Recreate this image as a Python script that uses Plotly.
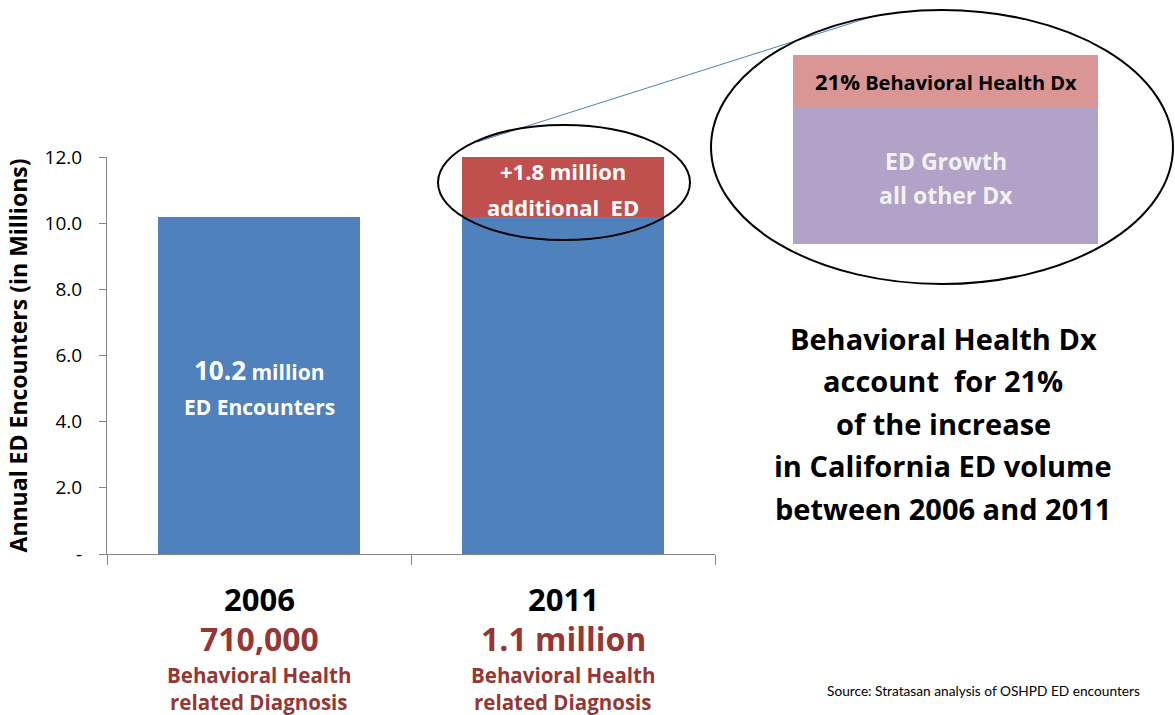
import plotly.graph_objects as go

# ---- data ----
years = ["2006", "2011"]
base_encounters = [10.2, 10.2]      # millions
added_encounters = [0.0, 1.8]       # millions
bh_counts = ["710,000", "1.1 million"]
y_tickvals = [0, 2, 4, 6, 8, 10, 12]
y_ticktext = ["-", "2.0", "4.0", "6.0", "8.0", "10.0", "12.0"]

BLUE = "#4F81BD"
RED = "#C0504D"
DRED = "#953735"
FONT = "Open Sans"

W, H = 1175, 715
L, R, T, B = 107, 460, 157, 161
PW, PH = W - L - R, H - T - B


def px(x):
    return (x - L) / PW


def py(y):
    return (H - B - y) / PH


fig = go.Figure()
fig.add_trace(go.Bar(x=years, y=base_encounters, marker_color=BLUE,
                     marker_line_width=0, hoverinfo="skip"))
fig.add_trace(go.Bar(x=years, y=added_encounters, marker_color=RED,
                     marker_line_width=0, hoverinfo="skip"))

ann = []


def text(x, y, s, size, color="black", bold=True, xref="paper", yref="paper",
         xanchor="center", yshift=0, family=FONT):
    ann.append(dict(x=x, y=y, xref=xref, yref=yref, text=("<b>%s</b>" % s) if bold else s,
                    showarrow=False, xanchor=xanchor, yanchor="middle", yshift=yshift,
                    font=dict(family=family, size=size, color=color)))


# text inside bars (x given as category index)
mid0 = base_encounters[0] / 2
text(0, mid0, "<span style='font-size:26px'>10.2</span> million", 21, "white",
     xref="x", yref="y", yshift=15)
text(0, mid0, "ED Encounters", 21, "white", xref="x", yref="y", yshift=-22)
mid1 = base_encounters[1] + added_encounters[1] / 2
text(1, mid1, "+%.1f million" % added_encounters[1], 22, "white",
     xref="x", yref="y", yshift=16)
text(1, mid1, "additional  ED", 22, "white", xref="x", yref="y", yshift=-20)

# labels below axis
for i, (yr, cnt) in enumerate(zip(years, bh_counts)):
    text(i, py(599), yr, 31, "black", xref="x")
    text(i, py(638), cnt, 32, DRED, xref="x")
    text(i, py(675), "Behavioral Health", 20.5, DRED, xref="x")
    text(i, py(702), "related Diagnosis", 20.5, DRED, xref="x")

# magnified box texts
text(px(946), py(81), "<span style='font-size:22px'>21%</span> Behavioral Health Dx", 20, "black")
text(px(946), py(161), "ED Growth", 23, "#F2F2F2")
text(px(946), py(195), "all other Dx", 23, "#F2F2F2")

# right-hand statement
lines = ["Behavioral Health Dx", "account  for 21%", "of the increase",
         "in California ED volume", "between 2006 and 2011"]
for i, s in enumerate(lines):
    text(px(943), py(338 + i * 42.5), s, 29, "black")

text(px(1142), py(690), "Source: Stratasan analysis of OSHPD ED encounters", 13.7,
     "black", bold=False, xanchor="right", family="Lato")

shapes = [
    # connector line
    dict(type="line", xref="paper", yref="paper", x0=px(477), y0=py(142), x1=px(877), y1=py(15),
         line=dict(color=BLUE, width=1)),
    # magnified box
    dict(type="rect", xref="paper", yref="paper", x0=px(793), x1=px(1098), y0=py(107), y1=py(55),
         fillcolor="#D99694", line_width=0),
    dict(type="rect", xref="paper", yref="paper", x0=px(793), x1=px(1098), y0=py(244), y1=py(107),
         fillcolor="#B3A2C7", line_width=0),
    # ellipses
    dict(type="circle", xref="paper", yref="paper", x0=px(438), x1=px(690), y0=py(240), y1=py(125),
         line=dict(color="black", width=2)),
    dict(type="circle", xref="paper", yref="paper", x0=px(711), x1=px(1173), y0=py(284), y1=py(10),
         line=dict(color="black", width=2)),
]

fig.update_layout(
    width=W, height=H, barmode="stack", bargap=0.333, showlegend=False,
    margin=dict(l=L, r=R, t=T, b=B, autoexpand=False),
    paper_bgcolor="white", plot_bgcolor="white",
    font=dict(family=FONT, color="black"),
    annotations=ann, shapes=shapes,
    xaxis=dict(type="category", tickson="boundaries", ticks="outside", ticklen=10,
               tickcolor="#868686", showticklabels=False, showline=True,
               linecolor="#868686", linewidth=1, showgrid=False, zeroline=False,
               range=[-0.5, 1.5], fixedrange=True),
    yaxis=dict(range=[0, 12], tickvals=y_tickvals, ticktext=y_ticktext, ticks="outside",
               ticklen=7, tickcolor="#868686", showline=True, linecolor="#868686",
               linewidth=1, showgrid=False, zeroline=False,
               tickfont=dict(family=FONT, size=19, color="black"),
               ticklabelstandoff=13,
               title=dict(text="<b>Annual ED Encounters (in Millions)</b>",
                          font=dict(family=FONT, size=23, color="black"), standoff=10),
               fixedrange=True),
)

fig.write_html("out.html", config={"displayModeBar": False},
               post_script="document.body.style.margin='0px';")
